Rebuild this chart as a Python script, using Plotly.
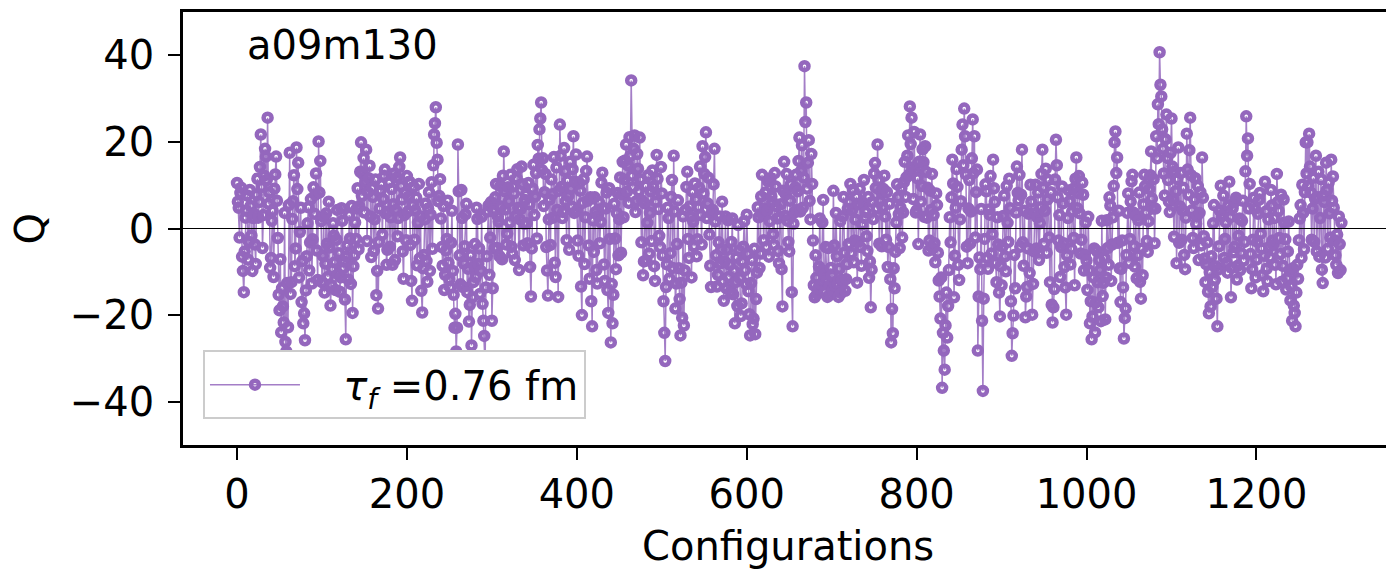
import plotly.graph_objects as go

# Q at even configurations 0, 2, ..., 1300
q_even = [
    10.5, 4.8, 8.2, -6.5, -14.7, 2.5, 7.6, -3.1, 5.2, -9.8,
    3.4, -8.2, 11.5, 6.1, 21.7, -4.5, 12.2, 16.6, 25.6, 8.3,
    -6.8, 4.1, 9.2, 16.6, -2.2, -18.9, -24.0, -18.0, 3.6, -28.4,
    -22.8, 17.5, -12.4, 6.3, -8.7, 18.7, 15.2, -0.8, -17.0, -21.9,
    -25.8, -6.4, 4.9, -3.2, -12.7, 9.5, 7.8, -5.1, 20.1, 15.6,
    -12.4, 2.7, -8.1, -3.5, 6.2, -17.8, -9.4, -1.6, -14.2, 4.3,
    -5.7, -11.3, 1.8, -7.6, -25.6, -3.9, 3.1, -12.8, -19.5, -6.2,
    -2.4, 9.3, 5.1, 19.9, 12.6, 3.7, 18.2, 8.4, 14.5, -6.6,
    7.3, 2.1, -15.4, -18.5, 4.6, 10.2, 6.8, 13.6, -8.4, 3.9,
    -4.2, 9.1, 5.6, -7.3, 11.8, 2.4, 16.4, 6.7, -11.6, 8.2,
    12.1, 7.4, -3.8, -16.7, 9.6, 4.2, -8.5, 10.3, 2.8, -19.4,
    -6.1, 5.8, -12.3, 8.4, 3.2, -4.7, 21.7, 28.0, 15.9, 7.5,
    2.3, -8.6, -14.2, -5.1, 6.4, -11.7, -3.3, -9.8, -22.9, -28.4,
    19.4, -6.2, 8.9, -13.5, -4.1, 5.7, -9.3, -17.6, -27.0, -12.4,
    -3.6, 4.8, -8.2, -15.1, 2.7, -21.3, -31.9, -6.4, 5.3, -2.1,
    -21.3, 3.9, 7.2, -4.5, 1.6, 9.8, -7.1, 17.8, 4.4, -1.2,
    6.3, 12.4, -5.8, 8.1, 2.9, 13.7, -9.6, 4.5, 10.2, 1.1,
    7.8, -3.4, 5.6, -15.7, 9.2, 3.1, 12.8, 19.3, 22.9, 29.1,
    16.2, 8.4, -4.3, -15.5, 6.7, 11.3, 2.5, -7.9, 14.1, -15.8,
    24.0, 9.6, 3.8, 13.2, -2.7, 7.5, 15.4, 5.1, 21.3, 10.8,
    4.2, -6.3, 8.7, -20.0, 11.4, 2.6, 16.6, -3.9, 7.2, -22.6,
    -5.4, 3.8, -12.7, 6.1, 1.5, 12.9, -8.3, 4.6, -14.2, 9.3,
    -26.3, -21.9, 5.7, -9.4, 8.2, 2.1, -5.6, 15.4, 11.3, 19.4,
    14.6, 21.1, 34.2, 9.5, 21.5, 6.3, 13.8, 21.0, -3.2, -10.8,
    5.8, -7.4, 12.3, 3.6, -2.9, 9.7, -12.1, 17.0, 4.5, -4.3,
    8.1, -16.8, -30.6, -8.3, 2.4, -5.7, 11.2, 16.8, -18.5, -3.6,
    -9.2, -24.7, -20.6, -22.4, 4.3, 13.1, -6.8, 2.7, 8.5, -4.1,
    6.7, -2.5, 9.4, 3.1, 19.0, 12.6, 22.2, 5.8, -1.4, -13.5,
    4.3, 18.4, -6.2, -10.7, 2.8, -4.9, -12.3, -7.6, -13.8, 1.9,
    -8.4, -3.1, -15.2, -21.9, -6.7, 0.8, -11.5, -17.3, -4.2, -9.6,
    3.2, -14.5, -24.7, -7.3, -20.8, -24.4, -10.2, 2.6, -5.8, 12.4,
    -2.7, 8.3, 4.1, -6.5, 11.6, 6.2, -3.8, 9.7, 2.3, -8.0,
    5.6, -18.0, 15.4, 7.9, 1.8, -5.3, 10.2, -22.6, 3.7, 12.4,
    8.6, 21.0, 13.3, 4.8, 37.5, 29.1, 15.2, 6.4, 17.2, -2.8,
    -15.9, -11.4, -13.8, 2.3, -9.7, 6.6, -14.6, -12.1, -4.5, -15.3,
    -10.8, 8.7, -13.2, -6.4, -15.8, 1.7, -11.9, 7.3, -14.4, -8.2,
    -3.6, 10.3, 4.2, -7.8, 2.1, -12.5, 5.6, -4.3, 0.9, 11.2,
    3.8, -5.2, -11.4, -18.2, 6.1, 12.7, 9.4, 19.4, -3.5, 8.6,
    4.9, 12.2, -2.6, -8.9, 5.7, -26.3, -24.2, -13.8, 1.4, 7.2,
    -4.5, 9.3, 3.7, 15.4, 11.8, 21.5, 28.2, 25.6, 6.8, 13.4,
    4.2, -3.6, 21.7, 9.8, 15.3, 19.0, 2.5, -5.1, 8.7, 12.6,
    3.1, -7.8, 5.4, -12.0, -20.8, -36.8, -28.2, -22.4, -25.2, -9.6,
    -3.2, 15.9, -15.9, 4.8, 9.6, -11.9, 6.3, 24.0, 27.7, 12.5,
    -8.0, 11.2, 3.9, 25.2, 21.3, 8.4, -28.2, -6.7, 4.5, -37.5,
    -2.4, 8.6, -9.3, 3.2, -5.8, 15.9, 6.1, -12.4, -3.7, -20.3,
    -13.1, 2.9, -6.4, 9.8, -3.1, 4.7, -29.4, -20.1, -13.8, 14.3,
    6.5, -4.2, 18.2, -8.6, -20.5, -13.5, 3.4, 10.1, -19.9, -5.3,
    10.1, 2.6, -7.3, 4.9, 18.2, -3.5, 13.8, 6.7, -2.1, 8.4,
    -21.7, -14.0, 20.5, 7.2, 3.1, -4.3, 5.8, -8.9, -19.9, 2.4,
    6.3, -4.7, 9.1, -13.1, 16.4, 8.2, 3.5, -2.6, 7.8, -6.1,
    -7.4, 2.7, -21.9, -25.6, -11.3, -24.0, -5.2, -18.2, -9.6, 1.8,
    -12.5, -21.0, 1.9, -8.4, 5.3, -3.7, 9.8, 22.4, 16.4, 4.1,
    -17.0, -2.8, -25.4, -18.5, 3.6, -7.9, 6.2, 12.4, -4.1, 2.9,
    -6.2, 8.3, -16.2, -10.8, 12.4, 3.7, -5.4, 9.1, 17.8, 4.6,
    -3.4, 21.3, 28.7, 40.7, 30.5, 18.4, 7.6, 26.3, 11.2, 3.8,
    25.4, 6.7, 13.2, -8.0, 18.7, 5.1, -2.6, 9.4, -9.4, 21.9,
    7.8, 25.6, 4.2, -4.5, 11.6, 2.9, -7.3, 8.4, 16.4, -1.8,
    -12.4, -3.2, -19.6, -18.0, -13.5, 5.4, -8.7, -22.6, -4.1, 9.9,
    3.2, -6.8, 1.4, -10.2, 10.8, -15.9, 4.7, -4.3, 7.1, -8.6,
    2.3, -5.7, 6.4, -3.1, 25.9, 20.8, 10.3, -13.8, -2.6, 4.5,
    -7.2, 3.4, 8.2, -4.6, -14.5, 10.8, -9.3, 2.1, -6.7, 5.3,
    -3.8, -8.4, 12.6, 4.1, -5.9, -12.3, 6.7, -2.5, -11.5, 1.6,
    -16.6, -21.3, -17.8, -22.6, -8.4, -2.7, 5.4, 10.1, -4.8, 19.9,
    19.9, 21.9, 8.3, 4.6, -3.1, 16.8, 7.2, -6.5, 11.4, -12.6,
    6.1, 15.2, -4.7, 3.5, 15.9, 12.0, -2.8, -8.4, -10.3, -3.6,
    1.3,
]

# Q at odd configurations 1, 3, ..., 1299
q_odd = [
    6.2, -2.1, 9.4, -9.8, -5.3, 4.1, -7.2, 8.9, -1.6, 2.4,
    -3.7, 7.8, 2.5, 14.2, 9.6, 3.1, 18.4, 11.2, 5.7, -9.1,
    1.8, -11.2, 12.5, 6.4, -15.3, -7.1, -13.8, -21.7, -26.2, -12.6,
    5.4, -15.1, 2.2, 12.3, -4.6, 9.1, -11.3, 4.8, -7.5, -19.6,
    -14.3, 1.2, -9.7, 6.8, -2.5, 3.4, 12.7, -11.9, 8.3, 1.7,
    -6.3, -14.8, 3.5, -11.2, -4.4, -13.1, 1.2, -7.8, -2.6, -10.5,
    -14.6, 4.7, -9.2, -16.4, -6.5, -11.8, -2.3, 5.2, -8.7, 1.4,
    4.6, -4.8, 13.1, 7.5, 16.3, 10.8, -2.9, 11.6, 2.8, 9.3,
    -5.2, 11.3, -9.8, -3.1, 8.7, -1.4, 12.1, 3.5, -4.9, 10.6,
    2.6, -8.4, 12.7, 4.3, -1.8, 14.2, 9.8, -5.3, 3.1, -2.7,
    3.9, 10.8, -12.1, 5.4, -2.6, 7.1, 1.3, -6.9, -14.4, -9.2,
    2.1, -7.5, 4.6, -9.8, 10.7, 14.6, 24.3, 19.8, 6.3, 11.4,
    -4.3, 5.2, -10.7, -2.4, -7.9, -13.6, 4.1, -15.3, -19.7, -22.9,
    8.6, -12.9, 2.4, -8.1, 3.3, -14.7, -21.5, -6.2, -15.9, -8.8,
    -11.2, 2.2, -4.6, -9.8, -17.4, -24.8, -13.6, 3.9, -10.7, 6.1,
    -13.8, -4.6, 10.3, 2.8, -6.4, 5.1, 12.2, 8.6, -3.7, 9.5,
    1.4, -4.2, 9.7, -7.3, 11.6, 4.8, 2.1, 14.3, -3.9, 6.6,
    1.2, 10.5, -8.9, -4.6, 14.7, 7.4, -2.3, 16.1, 25.4, 13.5,
    5.2, 12.6, -9.7, 2.1, -3.8, 7.9, 16.5, -11.2, 4.3, 8.7,
    16.8, 2.4, 18.6, 6.3, 11.1, -4.9, 9.2, 13.7, 3.6, 17.1,
    -2.8, 10.5, -13.4, 5.9, -8.2, 13.3, 6.4, -11.6, -16.8, 1.9,
    7.2, -9.6, 2.9, -3.4, 10.6, 4.7, -12.1, 8.3, -19.5, -2.4,
    -12.8, -15.3, -2.3, 3.6, -6.2, 11.8, 7.9, 2.6, 15.7, 8.5,
    5.9, 16.8, 12.2, 18.4, 3.8, 17.2, 8.6, 11.3, 6.4, -7.6,
    9.9, 1.3, -5.8, 8.6, 13.4, -8.7, 6.2, 11.5, -1.7, 14.2,
    -6.2, -24.1, -13.5, 4.8, -11.6, 7.3, -9.1, 3.9, -12.7, 6.5,
    -16.3, -12.5, 2.8, -9.7, 9.6, -2.4, 5.1, -11.3, 1.6, 10.4,
    -6.4, 4.9, 14.3, -3.7, 8.1, 16.5, 2.4, 11.7, -8.6, 3.4,
    10.2, 1.6, -13.4, -3.2, -8.1, 6.2, -16.7, 2.8, -4.9, -11.2,
    -14.6, 2.3, -9.8, -12.4, -17.9, -5.1, -20.2, -7.6, 1.7, -12.8,
    -5.9, -19.8, -12.6, -22.1, -4.7, -16.3, 4.9, -9.1, 7.4, 3.1,
    4.6, -4.3, 10.9, 1.7, 7.4, -1.3, 12.8, 5.1, -5.2, 2.6,
    -9.4, 8.7, 2.9, 12.6, -3.1, 6.4, -14.7, 1.1, 9.5, 4.3,
    15.6, 3.9, 19.2, 11.8, 24.6, 9.2, 20.4, 2.1, 10.3, -13.1,
    -6.2, -15.1, -8.8, -12.9, 1.4, -10.6, -4.3, -15.8, -13.2, -9.1,
    -14.2, -3.9, 3.6, -12.8, -9.3, -14.9, 2.8, -5.6, -11.7, 4.5,
    6.1, -5.7, 8.9, -2.8, 7.4, -3.1, 9.2, -8.6, 5.8, 2.4,
    -1.8, 7.3, -7.6, -9.5, 2.2, 15.1, 4.6, 11.2, 6.3, -4.1,
    9.1, 2.8, 8.4, -4.3, -11.7, -18.6, -9.2, -5.4, 10.2, 3.3,
    4.8, -2.1, 10.7, 7.3, 16.8, 12.4, 19.5, 14.1, 22.3, 3.7,
    11.6, 15.4, 6.2, 18.3, 2.7, 13.1, 9.4, -2.8, 4.3, -4.6,
    -3.4, 8.1, -5.6, -15.7, -11.3, -24.1, -32.6, -14.8, -17.9, 2.6,
    7.2, 10.4, -6.3, 13.7, -8.4, 2.1, 18.2, 14.6, 21.3, -4.2,
    4.6, -3.5, 16.2, 12.8, -2.1, 13.6, -15.7, -9.4, -21.3, -16.2,
    10.2, -6.8, 4.4, 12.1, -1.3, 9.3, -7.9, 2.6, -14.8, -8.7,
    -4.2, 7.6, -9.9, 1.3, 11.5, -16.8, -24.2, -6.1, 3.7, 8.2,
    12.4, 7.8, -3.2, 4.1, -15.7, -4.6, -10.3, 6.2, -12.8, 3.5,
    -4.6, 8.3, 1.2, 12.6, 9.4, 4.1, -5.6, 11.2, -12.4, -17.6,
    -18.2, 11.3, 14.6, -2.8, -11.2, 9.7, -3.4, -13.6, -6.2, 8.8,
    -8.3, 3.9, -2.2, 11.5, 4.7, 12.1, -5.8, 10.6, -9.7, 1.4,
    -14.2, -9.7, -16.8, -20.3, -4.6, -17.1, -12.4, -7.3, -21.4, -15.6,
    -6.8, -11.3, -4.5, 7.2, -12.1, 2.6, 19.9, 12.8, -3.3, -9.2,
    -9.3, -13.6, -20.7, -6.1, 8.1, -2.4, 10.9, 3.7, -8.8, -11.5,
    1.9, -12.3, -4.7, 5.6, 9.8, -2.9, 1.7, 12.3, 6.9, 11.4,
    4.6, 16.2, 24.1, 33.2, 22.9, 12.7, 20.6, 16.3, 6.2, 17.5,
    14.3, -1.9, 8.6, 11.4, -3.3, 12.8, 4.2, -6.1, 2.5, 13.6,
    18.1, 12.3, -2.2, 6.7, 1.1, 9.8, 3.6, -3.9, 7.1, -6.9,
    -8.3, -14.6, -10.1, -6.4, 1.2, -11.9, -16.2, -9.5, 4.1, 2.8,
    7.6, -2.4, -7.9, 5.3, 2.6, -9.1, -5.5, 6.2, -11.8, -1.7,
    -9.6, 1.8, -7.4, 13.2, 16.8, 4.6, -5.9, -9.4, 7.1, -11.3,
    -3.1, 6.6, -1.2, -10.8, -6.3, 3.9, -12.2, -4.3, 8.9, -2.8,
    2.4, -12.9, 6.1, -2.2, 7.8, -8.6, 1.3, -14.1, -5.3, -9.7,
    -13.4, -9.2, -19.5, -14.8, -11.6, 2.3, -6.8, 3.6, 8.4, 12.7,
    9.8, 14.3, -2.6, 11.7, 6.9, -5.3, 13.1, 2.4, -9.5, 7.6,
    -6.7, 8.9, 10.6, -2.1, 6.4, 4.8, -6.2, -1.4, 2.8, -9.6,
]

# merge into one series over configurations 0..1300
configs = []
q_values = []
for i, v in enumerate(q_even):
    configs.append(2 * i)
    q_values.append(v)
    if i < len(q_odd):
        configs.append(2 * i + 1)
        q_values.append(q_odd[i])

x_ticks = [0, 200, 400, 600, 800, 1000, 1200]
y_ticks = [-40, -20, 0, 20, 40]
series_label = "\u00a0\u00a0\u00a0<i>τ</i><sub><i>f</i></sub> =0.76 fm"
panel_label = "a09m130"
x_title = "Configurations"
y_title = "Q"

purple = "#9467bd"
font_family = "DejaVu Sans"

fig = go.Figure()
fig.add_trace(go.Scatter(
    x=configs, y=q_values, mode="lines+markers", name=series_label,
    line=dict(color="rgba(148,103,189,0.85)", width=1.5),
    marker=dict(symbol="circle-open", size=8, color=purple,
                line=dict(color=purple, width=4.5)),
))

fig.add_shape(type="line", xref="paper", yref="y", x0=0, x1=1, y0=0, y1=0,
              line=dict(color="black", width=1.2), layer="above")

fig.add_annotation(text=panel_label, xref="paper", yref="paper",
                   x=0.0515, y=0.924, xanchor="left", yanchor="middle",
                   showarrow=False, font=dict(size=40, color="black", family=font_family))
fig.add_annotation(text=y_title, xref="paper", yref="paper",
                   x=-0.1272, y=0.5, xanchor="center", yanchor="middle", textangle=-90,
                   showarrow=False, font=dict(size=40, color="black", family=font_family))
fig.add_annotation(text=x_title, xref="paper", yref="paper",
                   x=0.5029, y=-0.2333, xanchor="center", yanchor="middle",
                   showarrow=False, font=dict(size=40, color="black", family=font_family))

fig.update_layout(
    width=1386, height=569,
    margin=dict(l=183, r=0, t=12, b=124),
    paper_bgcolor="white", plot_bgcolor="white",
    font=dict(family=font_family, size=40, color="black"),
    showlegend=True,
    legend=dict(x=0.0166, y=0.219, xanchor="left", yanchor="top",
                bgcolor="white", bordercolor="#cccccc", borderwidth=2,
                font=dict(size=40, family=font_family), itemwidth=90),
    xaxis=dict(range=[-63.6, 1352.5], tickvals=x_ticks, showgrid=False, zeroline=False,
               showline=True, linecolor="black", linewidth=2.5, mirror=True,
               ticks="outside", ticklen=12, tickwidth=2, tickcolor="black",
               ticklabelstandoff=0, automargin=False,
               tickfont=dict(size=40, family=font_family)),
    yaxis=dict(range=[-50, 50], tickvals=y_ticks, showgrid=False, zeroline=False,
               showline=True, linecolor="black", linewidth=2.5, mirror=False,
               ticks="outside", ticklen=12, tickwidth=2, tickcolor="black",
               ticklabelstandoff=6, automargin=False,
               tickfont=dict(size=40, family=font_family)),
)

fig.write_html("out.html")
